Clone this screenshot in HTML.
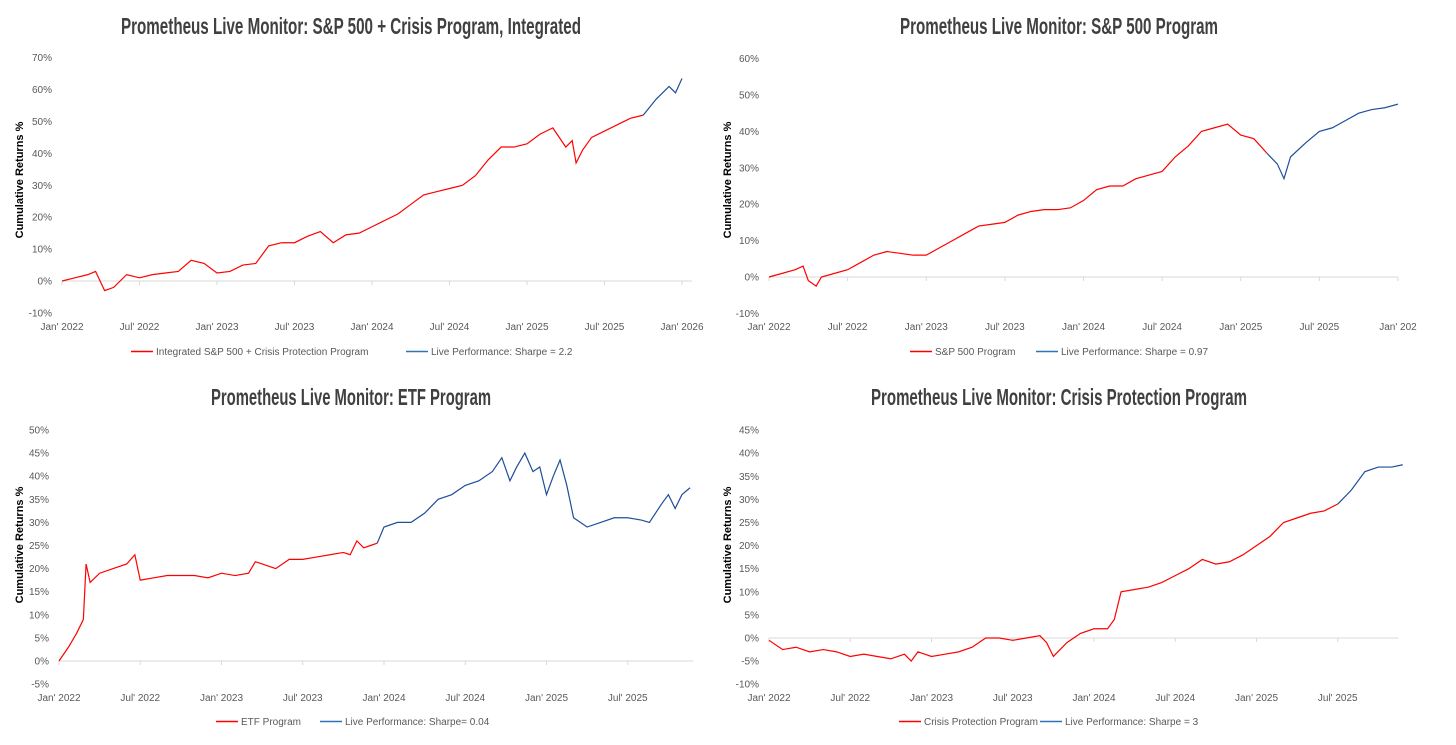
<!DOCTYPE html>
<html><head><meta charset="utf-8">
<style>
body{margin:0;background:#fff;width:1456px;height:745px;overflow:hidden;font-family:"Liberation Sans",sans-serif}
svg{position:absolute;left:0;top:0}
.t{font-family:"Liberation Sans",sans-serif;font-weight:bold;font-size:23px;fill:#404040}
.tk{font-size:10px;fill:#595959}
.lg{font-size:10px;fill:#595959}
.yt{font-size:11px;font-weight:bold;fill:#000}
</style></head><body>
<svg id="s" width="1456" height="745"></svg>
<script>
// Month index: 0 = Jan 2022
const c1Months=[0,1,2,2.6,3.3,4,5,6,7,8,9,10,11,12,13,14,15,16,17,18,19,20,21,22,23,24,25,26,27,28,29,30,31,32,33,34,35,36,37,38,39,39.5,39.8,40.3,41,42,43,44,45,46,47,47.5,48];
const c1Values=[0,1,2,3,-3,-2,2,1,2,2.5,3,6.5,5.5,2.5,3,5,5.5,11,12,12,14,15.5,12,14.5,15,17,19,21,24,27,28,29,30,33,38,42,42,43,46,48,42,44,37,41,45,47,49,51,52,57,61,59,63.5];
const c1LiveStart=45;
const c2Months=[0,1,2,2.6,3,3.6,4,5,6,7,8,9,10,11,12,13,14,15,16,17,18,19,20,21,22,23,24,25,26,27,28,29,30,31,32,33,34,35,36,37,38,38.8,39.3,39.8,41,42,43,44,45,46,47,48];
const c2Values=[0,1,2,3,-1,-2.5,0,1,2,4,6,7,6.5,6,6,8,10,12,14,14.5,15,17,18,18.5,18.5,19,21,24,25,25,27,28,29,33,36,40,41,42,39,38,34,31,27,33,37,40,41,43,45,46,46.5,47.5];
const c2LiveStart=38;
const c3Months=[0,0.7,1.3,1.8,2,2.3,3,4,5,5.6,6,7,8,9,10,11,12,13,14,14.5,15,16,17,18,19,20,21,21.5,22,22.5,23,23.5,24,25,26,27,28,29,30,31,32,32.7,33.3,33.8,34.4,35,35.5,36,36.5,37,37.5,38,39,40,41,42,43,43.6,44.5,45,45.5,46,46.6];
const c3Values=[0,3,6,9,21,17,19,20,21,23,17.5,18,18.5,18.5,18.5,18,19,18.5,19,21.5,21,20,22,22,22.5,23,23.5,23,26,24.5,25,25.5,29,30,30,32,35,36,38,39,41,44,39,42,45,41,42,36,40,43.5,38,31,29,30,31,31,30.5,30,34,36,33,36,37.5];
const c3LiveStart=23.5;
const c4Months=[0,1,2,3,4,5,6,7,8,9,10,10.5,11,12,13,14,15,16,17,18,19,20,20.5,21,22,23,24,25,25.5,26,27,28,29,30,31,32,33,34,35,36,37,38,39,40,41,42,43,44,45,46,46.8];
const c4Values=[-0.5,-2.5,-2,-3,-2.5,-3,-4,-3.5,-4,-4.5,-3.5,-5,-3,-4,-3.5,-3,-2,0,0,-0.5,0,0.5,-1,-4,-1,1,2,2,4,10,10.5,11,12,13.5,15,17,16,16.5,18,20,22,25,26,27,27.5,29,32,36,37,37,37.5];
const c4LiveStart=42;

const svg=document.getElementById('s');
const NS='http://www.w3.org/2000/svg';
function mk(tag,attrs,parent,text){const e=document.createElementNS(NS,tag);for(const k in attrs)e.setAttribute(k,attrs[k]);if(text!==undefined)e.textContent=text;(parent||svg).appendChild(e);return e;}

function chart(cfg){
  const g=mk('g',{});
  
  
  const xs=m=>cfg.x0+(cfg.x1-cfg.x0)*m/48;
  const ys=v=>cfg.yZero-(v/cfg.step)*cfg.stepPx;
  const t=mk('text',{x:cfg.tx-cfg.tw/2,y:cfg.ty,class:'t',textLength:cfg.tw,lengthAdjust:'spacingAndGlyphs'},g,cfg.title);
  
  
  const yt=mk('text',{x:0,y:0,'text-anchor':'middle',class:'yt',transform:`translate(${cfg.yax},${cfg.yatY}) rotate(-90)`},g,cfg.yTitle);
  
  
  for(const v of cfg.yTicks){
    const l=mk('text',{x:cfg.ylx,y:ys(v)+3.5,'text-anchor':'end',class:'tk'},g,v+'%');
    
    
  }
  const ax=mk('line',{x1:cfg.x0,x2:cfg.axEnd,y1:ys(0),y2:ys(0),stroke:'#d9d9d9','stroke-width':1},g);
  
  
  for(let i=0;i<cfg.xTicks.length;i++){
    const m=i*6,x=xs(m);
    mk('line',{x1:x,x2:x,y1:ys(0),y2:ys(0)+4,stroke:'#d9d9d9'},g);
    const l=mk('text',{x:x,y:cfg.xly,'text-anchor':'middle',class:'tk'},g,cfg.xTicks[i]);
    
    
  }
  const pts=cfg.months.map((m,i)=>[m,xs(m),ys(cfg.values[i])]);
  const red=pts.filter(p=>p[0]<=cfg.live),blue=pts.filter(p=>p[0]>=cfg.live);
  const p1=mk('polyline',{points:red.map(p=>p[1]+','+p[2]).join(' '),fill:'none',stroke:'#ff0000','stroke-width':1.2},g);
  
  
  const p2=mk('polyline',{points:blue.map(p=>p[1]+','+p[2]).join(' '),fill:'none',stroke:'#1f4e9a','stroke-width':1.2},g);
  
  
  const lx=cfg.legX,ly=cfg.legY;
  mk('line',{x1:lx,x2:lx+22,y1:ly-3.5,y2:ly-3.5,stroke:'#ff0000','stroke-width':1.5},g);
  const a=mk('text',{x:lx+25,y:ly,class:'lg'},g,cfg.leg1);
  
  
  mk('line',{x1:cfg.leg2X,x2:cfg.leg2X+22,y1:ly-3.5,y2:ly-3.5,stroke:'#2e75b6','stroke-width':1.5},g);
  const b=mk('text',{x:cfg.leg2X+25,y:ly,class:'lg'},g,cfg.leg2);
  
  
}
const yr=['Jan\' 2022','Jul\' 2022','Jan\' 2023','Jul\' 2023','Jan\' 2024','Jul\' 2024','Jan\' 2025','Jul\' 2025','Jan\' 2026'];
chart({name:'chart-integrated',title:'Prometheus Live Monitor: S&P 500 + Crisis Program, Integrated',tx:351,tw:460,ty:34,
 yTitle:'Cumulative  Returns %',yax:23,yatY:180,ylx:52,yTicks:[-10,0,10,20,30,40,50,60,70],yZero:281,step:10,stepPx:31.9,
 x0:62,x1:682,axEnd:692,xTicks:yr,xly:330,months:c1Months,values:c1Values,live:c1LiveStart,
 legX:131,legY:355,leg1:'Integrated S&P 500 + Crisis Protection Program',leg2X:406,leg2:'Live Performance: Sharpe = 2.2'});
chart({name:'chart-sp500',title:'Prometheus Live Monitor: S&P 500 Program',tx:1059,tw:318,ty:34,
 yTitle:'Cumulative Returns %',yax:731,yatY:180,ylx:759,yTicks:[-10,0,10,20,30,40,50,60],yZero:277,step:10,stepPx:36.4,
 x0:769,x1:1398,axEnd:1398,xTicks:['Jan\' 2022','Jul\' 2022','Jan\' 2023','Jul\' 2023','Jan\' 2024','Jul\' 2024','Jan\' 2025','Jul\' 2025','Jan\' 202'],xly:330,months:c2Months,values:c2Values,live:c2LiveStart,
 legX:910,legY:355,leg1:'S&P 500 Program',leg2X:1036,leg2:'Live Performance: Sharpe = 0.97'});
chart({name:'chart-etf',title:'Prometheus Live Monitor: ETF Program',tx:351,tw:280,ty:405,
 yTitle:'Cumulative Returns %',yax:23,yatY:545,ylx:49,yTicks:[-5,0,5,10,15,20,25,30,35,40,45,50],yZero:661,step:5,stepPx:23.1,
 x0:59,x1:709,axEnd:693,xTicks:yr.slice(0,8),xly:701,months:c3Months,values:c3Values,live:c3LiveStart,
 legX:216,legY:725,leg1:'ETF Program',leg2X:320,leg2:'Live Performance: Sharpe= 0.04'});
chart({name:'chart-crisis',title:'Prometheus Live Monitor: Crisis Protection Program',tx:1059,tw:376,ty:405,
 yTitle:'Cumulative Returns %',yax:731,yatY:545,ylx:759,yTicks:[-10,-5,0,5,10,15,20,25,30,35,40,45],yZero:638,step:5,stepPx:23.1,
 x0:769,x1:1419,axEnd:1398,xTicks:yr.slice(0,8),xly:701,months:c4Months,values:c4Values,live:c4LiveStart,
 legX:899,legY:725,leg1:'Crisis Protection Program',leg2X:1040,leg2:'Live Performance: Sharpe = 3'});
</script>
</body></html>
